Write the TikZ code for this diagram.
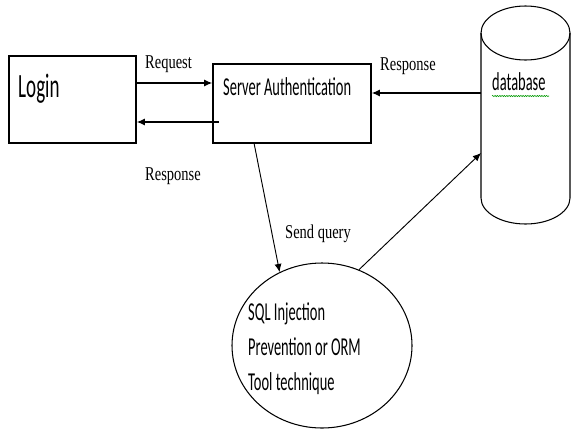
\documentclass[tikz,border=0pt]{standalone}
\usepackage{fontspec}
\newfontfamily\calfont[FakeStretch=0.56]{Carlito}
\newfontfamily\serfont[FakeStretch=0.74]{Liberation Serif}
\usepackage{tikz}
\usetikzlibrary{
  calc,positioning,shapes.geometric,
  arrows.meta,decorations.pathmorphing
}

\tikzset{
  box/.style={draw,line width=1pt,rectangle,inner sep=0pt},
  calt/.style={font=\calfont\fontsize{22pt}{26pt}\selectfont,inner sep=0pt},
  sert/.style={font=\serfont\fontsize{16.7pt}{20pt}\selectfont,inner sep=0pt},
  flow/.style={-{Latex[length=7pt,width=6pt]},line width=1.3pt},
  thin flow/.style={-{Latex[length=7pt,width=6pt]},line width=0.8pt}
}

\begin{document}
\begin{tikzpicture}[x=0.3mm,y=-0.3mm]
\useasboundingbox (0,0) rectangle (571,430);

% boxes
\node[box,minimum width=38.1mm,minimum height=26.1mm] (login) at (72.5,99.5) {};
\node[calt,font=\calfont\fontsize{29pt}{34pt}\selectfont,anchor=base west] (logintxt) at (18,97) {Login};
\node[box,minimum width=47.4mm,minimum height=23.7mm] (srv) at (292,103.5) {};
\node[calt,anchor=base west] (srvtxt) at (223,95) {Server Authentication};

% database cylinder
\coordinate (dbtop) at (525.5,33);
\coordinate (dbbot) at (525.5,198);
\draw[line width=0.9pt] (dbtop) ellipse [x radius=44.5, y radius=27];
\draw[line width=0.9pt] ($(dbtop)+(-44.5,0)$) -- ($(dbbot)+(-44.5,0)$)
  arc[start angle=180,end angle=0,x radius=44.5,y radius=26] -- ($(dbtop)+(44.5,0)$);
\node[calt,anchor=base west] (dbtxt) at (492,90) {database};
\draw[green!60!black,line width=0.5pt,decorate,
  decoration={snake,amplitude=0.5pt,segment length=2pt}] (492,96) -- (549,96);

% oval
\node[draw,ellipse,line width=0.9pt,minimum width=54mm,minimum height=49.5mm] (sql) at (322,345.5) {};
\node[calt,anchor=base west] (sql1) at (248,320) {SQL Injection};
\node[calt,anchor=base west] (sql2) at (248,355) {Prevention or ORM};
\node[calt,anchor=base west] (sql3) at (248,390) {Tool technique};

% connectors
\coordinate (back) at (219,122);
\coordinate (dbin) at (481,93);
\coordinate (dbside) at (481,153);
\coordinate (qstart) at (254,143);
\draw[flow] (login.east |- 0,83) -- (srv.west |- 0,83);
\draw[flow] (back) -- (login.east |- back);
\draw[flow] (dbin) -- (srv.east |- dbin);
\draw[thin flow] (qstart) -- (sql.120);
\draw[thin flow] (sql.64) -- (dbside);

% labels
\node[sert,anchor=base west] (reqlbl) at (145,68) {Request};
\node[sert,anchor=base west] (resplbl) at (145,180) {Response};
\node[sert,anchor=base west] (dbresplbl) at (380,70) {Response};
\node[sert,anchor=base west] (querylbl) at (285,238) {Send query};
\end{tikzpicture}
\end{document}
